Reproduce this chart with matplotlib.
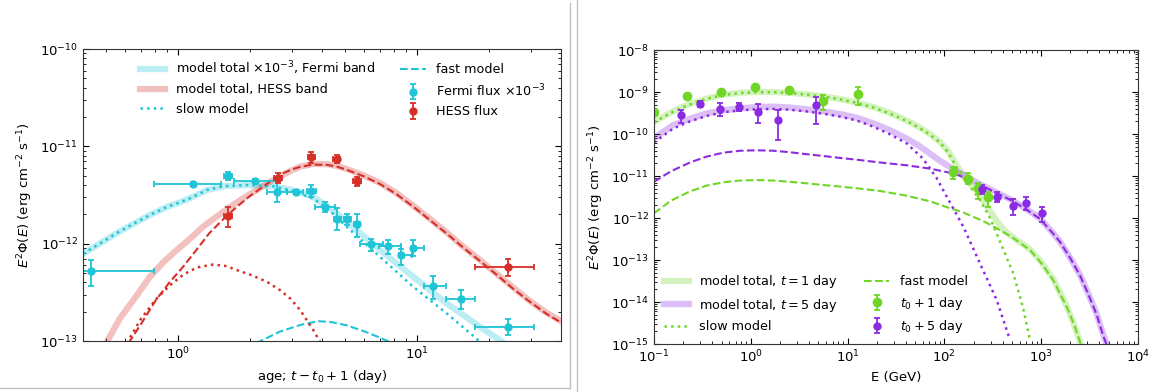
import matplotlib
matplotlib.use("Agg")
import matplotlib.pyplot as plt
from matplotlib.lines import Line2D
from matplotlib.container import ErrorbarContainer
from matplotlib.legend_handler import HandlerErrorbar

# ── left panel: light curves ─────────────────────────────────────
fermi_t    = [0.43, 1.15, 1.62, 2.10, 2.60, 3.10, 3.61, 4.12, 4.63, 5.10, 5.60,
              6.39, 7.58, 8.59, 9.62, 11.6, 15.3, 24.0]
fermi_tlo  = [0.20, 0.79, 1.56, 1.72, 2.36, 2.85, 3.45, 3.74, 4.48, 4.93, 5.42,
              5.74, 6.93, 8.40, 9.50, 10.7, 13.2, 17.4]
fermi_thi  = [0.79, 1.51, 1.68, 2.58, 2.85, 3.34, 3.78, 4.55, 4.78, 5.27, 5.78,
              7.21, 8.57, 9.50, 10.7, 13.2, 17.4, 30.7]
fermi_f    = [5.25e-13, 4.12e-12, 4.98e-12, 4.42e-12, 3.41e-12, 3.41e-12, 3.47e-12,
              2.39e-12, 1.81e-12, 1.81e-12, 1.58e-12, 9.9e-13, 9.4e-13, 7.73e-13,
              9.1e-13, 3.66e-13, 2.69e-13, 1.39e-13]
fermi_flo  = [3.71e-13, 3.92e-12, 4.50e-12, 4.20e-12, 2.69e-12, 3.25e-12, 3.00e-12,
              2.12e-12, 1.37e-12, 1.55e-12, 1.17e-12, 8.45e-13, 7.9e-13, 6.0e-13,
              7.4e-13, 2.72e-13, 2.12e-13, 1.16e-13]
fermi_fhi  = [6.87e-13, 4.33e-12, 5.47e-12, 4.65e-12, 4.50e-12, 3.60e-12, 4.03e-12,
              2.69e-12, 2.30e-12, 2.04e-12, 2.04e-12, 1.13e-12, 1.10e-12, 8.9e-13,
              1.09e-12, 4.6e-13, 3.32e-13, 1.70e-13]

hess_t     = [1.62, 2.62, 3.61, 4.60, 5.60, 24.0]
hess_tlo   = [1.56, 2.52, 3.48, 4.43, 5.40, 17.4]
hess_thi   = [1.68, 2.72, 3.74, 4.77, 5.80, 30.7]
hess_f     = [1.93e-12, 4.68e-12, 7.82e-12, 7.40e-12, 4.39e-12, 5.77e-13]
hess_flo   = [1.49e-12, 4.22e-12, 6.67e-12, 6.67e-12, 3.90e-12, 4.62e-13]
hess_fhi   = [2.39e-12, 5.26e-12, 8.80e-12, 8.13e-12, 4.86e-12, 7.03e-13]

fband_t    = [0.4, 0.47, 0.553, 0.65, 0.762, 0.898, 1.0, 1.12, 1.32, 1.55, 1.94,
              2.48, 3.0, 3.68, 4.6, 5.58, 7.0, 9.64, 13.3, 18.3, 22.2, 23.0]
fband_f    = [7.9e-13, 1.0e-12, 1.28e-12, 1.6e-12, 1.97e-12, 2.39e-12, 2.62e-12,
              2.92e-12, 3.56e-12, 3.9e-12, 4.0e-12, 3.9e-12, 3.56e-12, 3.03e-12,
              2.05e-12, 1.38e-12, 8.6e-13, 4.57e-13, 2.43e-13, 1.4e-13, 1.02e-13,
              9.5e-14]
fslow_t    = [0.4, 0.47, 0.553, 0.65, 0.762, 0.898, 1.0, 1.12, 1.32, 1.55, 1.94,
              2.48, 3.0, 3.68, 4.3, 5.07, 7.0, 9.64, 13.3, 17.7, 18.5]
fslow_f    = [7.9e-13, 1.0e-12, 1.28e-12, 1.6e-12, 1.97e-12, 2.39e-12, 2.62e-12,
              2.92e-12, 3.56e-12, 3.9e-12, 4.0e-12, 3.9e-12, 3.5e-12, 2.9e-12,
              2.2e-12, 1.49e-12, 7.3e-13, 3.6e-13, 1.92e-13, 1.06e-13, 9.5e-14]
ffast_t    = [2.12, 2.4, 2.67, 3.24, 3.86, 4.4, 5.07, 6.15, 7.0, 7.9]
ffast_f    = [9.5e-14, 1.1e-13, 1.25e-13, 1.46e-13, 1.6e-13, 1.56e-13, 1.45e-13,
              1.23e-13, 1.08e-13, 9.5e-14]

hband_t    = [0.5, 0.57, 0.65, 0.762, 0.87, 0.987, 1.12, 1.27, 1.45, 1.65, 1.88,
              2.13, 2.42, 2.74, 3.0, 3.25, 3.68, 4.2, 4.6, 5.07, 6.0, 7.0, 8.2,
              9.64, 11.3, 13.3, 15.6, 18.3, 21.5, 25.2, 29.5, 34.8, 40.0]
hband_f    = [9.5e-14, 1.7e-13, 2.63e-13, 4.57e-13, 6.5e-13, 8.6e-13, 1.12e-12,
              1.49e-12, 1.9e-12, 2.39e-12, 2.95e-12, 3.56e-12, 4.3e-12, 5.07e-12,
              5.7e-12, 6.2e-12, 6.6e-12, 6.55e-12, 6.3e-12, 5.85e-12, 5.0e-12,
              4.2e-12, 3.3e-12, 2.45e-12, 1.8e-12, 1.3e-12, 9.3e-13, 6.8e-13,
              4.9e-13, 3.55e-13, 2.6e-13, 1.95e-13, 1.6e-13]
hfast_t    = [0.62, 0.7, 0.807, 0.92, 1.05, 1.2, 1.35, 1.55, 1.76, 2.0, 2.27, 2.5,
              2.74, 3.0, 3.25, 3.68, 4.2, 4.6, 5.07, 6.0, 7.0, 8.2, 9.64, 11.3,
              13.3, 15.6, 18.3, 21.5, 25.2, 29.5, 34.8, 40.0]
hfast_f    = [9.5e-14, 1.5e-13, 2.63e-13, 4.0e-13, 5.8e-13, 8.8e-13, 1.28e-12,
              1.8e-12, 2.39e-12, 3.1e-12, 3.85e-12, 4.6e-12, 5.28e-12, 5.8e-12,
              6.17e-12, 6.5e-12, 6.45e-12, 6.2e-12, 5.75e-12, 4.9e-12, 4.1e-12,
              3.22e-12, 2.4e-12, 1.75e-12, 1.27e-12, 9.1e-13, 6.65e-13, 4.8e-13,
              3.45e-13, 2.55e-13, 1.9e-13, 1.55e-13]
hslow_t    = [0.61, 0.7, 0.81, 0.92, 1.05, 1.2, 1.40, 1.58, 1.76, 2.05, 2.35, 2.67,
              2.96, 3.24, 3.68, 3.95]
hslow_f    = [9.5e-14, 1.7e-13, 2.7e-13, 3.7e-13, 4.8e-13, 5.7e-13, 6.1e-13,
              5.9e-13, 5.36e-13, 4.7e-13, 4.06e-13, 3.33e-13, 2.7e-13, 2.08e-13,
              1.29e-13, 9.5e-14]

# ── right panel: spectra ─────────────────────────────────────────
d1_E   = [0.1, 0.218, 0.492, 1.10, 2.50, 5.61, 12.9, 124, 177, 224, 285]
d1_f   = [3.4e-10, 8.0e-10, 9.8e-10, 1.29e-9, 1.12e-9, 6.2e-10, 8.96e-10,
          1.22e-11, 8.5e-12, 5.1e-12, 3.1e-12]
d1_flo = [3.2e-10, 7.6e-10, 9.3e-10, 1.22e-9, 1.02e-9, 3.7e-10, 4.9e-10,
          8.3e-12, 6.5e-12, 2.78e-12, 1.86e-12]
d1_fhi = [3.6e-10, 8.4e-10, 1.03e-9, 1.36e-9, 1.22e-9, 8.5e-10, 1.34e-9,
          1.61e-11, 1.17e-11, 6.7e-12, 4.2e-12]

d5_E   = [0.19, 0.30, 0.48, 0.75, 1.19, 1.89, 4.7, 242, 352, 515, 690, 1012]
d5_f   = [2.83e-10, 5.2e-10, 3.87e-10, 4.5e-10, 3.4e-10, 2.16e-10, 4.9e-10,
          4.8e-12, 3.2e-12, 1.97e-12, 2.23e-12, 1.29e-12]
d5_flo = [1.8e-10, 4.4e-10, 2.7e-10, 3.5e-10, 1.8e-10, 7.3e-11, 1.73e-10,
          3.7e-12, 2.45e-12, 1.18e-12, 1.55e-12, 8.2e-13]
d5_fhi = [3.7e-10, 6.0e-10, 5.4e-10, 5.6e-10, 5.2e-10, 3.7e-10, 7.7e-10,
          6.1e-12, 4.2e-12, 2.78e-12, 3.1e-12, 1.86e-12]

band1_E = [0.1, 0.15, 0.22, 0.35, 0.52, 0.773, 1.15, 1.71, 2.5, 3.78, 5.6, 8.34,
           12.4, 18.4, 27, 40.7, 55, 71, 90, 110, 134, 165, 215, 265, 320, 380,
           440, 560, 766, 1000, 1334, 1833, 2200, 2600]
band1_f = [1.95e-10, 3.3e-10, 4.9e-10, 7.0e-10, 8.6e-10, 9.6e-10, 1.0e-9,
           1.0e-9, 9.6e-10, 8.8e-10, 7.9e-10, 6.8e-10, 5.6e-10, 4.4e-10,
           3.2e-10, 2.1e-10, 1.45e-10, 1.0e-10, 6.5e-11, 3.8e-11, 1.8e-11,
           8.5e-12, 4.4e-12, 2.2e-12, 1.1e-12, 6.5e-13, 4.5e-13, 3.0e-13,
           1.8e-13, 9.0e-14, 3.5e-14, 8.0e-15, 2.8e-15, 9e-16]
slow1_E = [0.1, 0.15, 0.22, 0.35, 0.52, 0.773, 1.15, 1.71, 2.5, 3.78, 5.6, 8.34,
           12.4, 18.4, 27, 40.7, 55, 71, 90, 110, 134, 165, 233, 290, 347, 430,
           515, 646, 766]
slow1_f = [1.9e-10, 3.2e-10, 4.8e-10, 6.9e-10, 8.5e-10, 9.5e-10, 9.9e-10,
           9.9e-10, 9.5e-10, 8.7e-10, 7.8e-10, 6.7e-10, 5.5e-10, 4.3e-10,
           3.1e-10, 2.05e-10, 1.4e-10, 9.7e-11, 6.3e-11, 3.6e-11, 1.6e-11,
           8.0e-12, 2.7e-12, 1.1e-12, 4.3e-13, 1.3e-13, 4.8e-14, 7.7e-15, 1.25e-15]
fast1_E = [0.1, 0.15, 0.235, 0.35, 0.52, 0.773, 1.15, 1.71, 2.5, 3.78, 5.6, 8.34,
           12.4, 21.6, 40.7, 71, 100, 157, 250, 347, 500, 766, 1000, 1334, 1833,
           2200, 2600]
fast1_f = [1.3e-12, 2.6e-12, 4.3e-12, 5.9e-12, 7.1e-12, 7.8e-12, 8.0e-12,
           7.8e-12, 7.3e-12, 6.7e-12, 6.1e-12, 5.6e-12, 5.1e-12, 4.4e-12,
           3.4e-12, 2.5e-12, 1.9e-12, 1.35e-12, 8.5e-13, 5.7e-13, 3.5e-13,
           1.73e-13, 8.5e-14, 3.3e-14, 7.7e-15, 2.8e-15, 9e-16]

band5_E = [0.1, 0.158, 0.235, 0.35, 0.52, 0.773, 1.15, 1.71, 2.5, 3.78, 5.6, 8.34,
           12.4, 18.4, 27, 40.7, 55, 71, 90, 124, 170, 233, 350, 515, 700, 973,
           1300, 1564, 2000, 2516, 3041, 3741, 4400, 4800]
band5_f = [7.9e-11, 1.64e-10, 2.3e-10, 3.1e-10, 3.7e-10, 4.08e-10, 4.4e-10,
           4.48e-10, 4.3e-10, 3.87e-10, 3.45e-10, 3.0e-10, 2.45e-10, 1.8e-10,
           1.25e-10, 7.8e-11, 5.2e-11, 3.4e-11, 2.3e-11, 1.45e-11, 9.5e-12,
           6.4e-12, 4.0e-12, 2.55e-12, 1.65e-12, 9.8e-13, 4.6e-13, 2.75e-13,
           1.12e-13, 4.4e-14, 1.65e-14, 5.2e-15, 1.6e-15, 9e-16]
slow5_E = [0.1, 0.158, 0.235, 0.35, 0.52, 0.773, 1.15, 1.71, 2.5, 3.78, 5.6, 8.34,
           12.4, 18.4, 27, 40.7, 60, 83, 106, 157, 233, 347, 476]
slow5_f = [6.3e-11, 1.35e-10, 2.0e-10, 2.7e-10, 3.3e-10, 3.65e-10, 3.9e-10,
           3.95e-10, 3.8e-10, 3.45e-10, 3.05e-10, 2.6e-10, 2.1e-10, 1.5e-10,
           1.0e-10, 6.0e-11, 2.6e-11, 9.0e-12, 3.2e-12, 6.2e-13, 8.3e-14,
           1.12e-14, 1.25e-15]
fast5_E = [0.1, 0.15, 0.235, 0.35, 0.52, 0.773, 1.15, 1.71, 2.5, 3.78, 5.6, 8.34,
           12.4, 21.6, 40.7, 71, 124, 170, 233, 350, 515, 700, 973, 1300, 1564,
           2000, 2516, 3041, 3741, 4400, 4800]
fast5_f = [7.3e-12, 1.3e-11, 2.1e-11, 2.9e-11, 3.6e-11, 4.0e-11, 4.1e-11,
           4.0e-11, 3.7e-11, 3.3e-11, 3.0e-11, 2.7e-11, 2.45e-11, 2.1e-11,
           1.8e-11, 1.5e-11, 1.15e-11, 8.8e-12, 6.2e-12, 3.9e-12, 2.5e-12,
           1.6e-12, 9.5e-13, 4.5e-13, 2.7e-13, 1.1e-13, 4.3e-14, 1.6e-14,
           5.0e-15, 1.5e-15, 9e-16]

CYAN   = "#1fc4d6"
RED    = "#d62f28"
GREEN  = "#6fd626"
PURPLE = "#8a2be2"

plt.rcParams.update({
    "font.size": 9.5,
    "xtick.direction": "in", "ytick.direction": "in",
    "xtick.top": True, "ytick.right": True,
    "xtick.major.size": 4, "ytick.major.size": 4,
    "xtick.minor.size": 2, "ytick.minor.size": 2,
    "axes.edgecolor": "#333333",
    "legend.fontsize": 9.2,
})


def errs(v, lo, hi):
    return [[a - b for a, b in zip(v, lo)], [c - a for a, c in zip(v, hi)]]


eb_kw = dict(fmt="o", ms=5, capsize=2.5, elinewidth=1.3, capthick=1.3)
# legend shows only the vertical error bar
hmap = {ErrorbarContainer: HandlerErrorbar(xerr_size=0, yerr_size=0.6)}

fig = plt.figure(figsize=(11.53, 3.92), dpi=100)
ax1 = fig.add_axes([0.0720, 0.1301, 0.4146, 0.7449])
ax2 = fig.add_axes([0.5672, 0.1224, 0.4198, 0.7500])

# ── left panel ──
b1, = ax1.plot(fband_t, fband_f, color=CYAN, lw=4.5, alpha=0.3,
               label=r"model total $\times 10^{-3}$, Fermi band")
b2, = ax1.plot(hband_t, hband_f, color=RED, lw=4.5, alpha=0.3,
               label="model total, HESS band")
s1, = ax1.plot(fslow_t, fslow_f, color=CYAN, lw=1.8, ls=":", label="slow model")
f1, = ax1.plot(ffast_t, ffast_f, color=CYAN, lw=1.5, ls="--", label="fast model")
ax1.plot(hslow_t, hslow_f, color=RED, lw=1.8, ls=":")
ax1.plot(hfast_t, hfast_f, color=RED, lw=1.5, ls="--")
e1 = ax1.errorbar(fermi_t, fermi_f, xerr=errs(fermi_t, fermi_tlo, fermi_thi),
                  yerr=errs(fermi_f, fermi_flo, fermi_fhi), color=CYAN,
                  label=r"Fermi flux $\times 10^{-3}$", **eb_kw)
e2 = ax1.errorbar(hess_t, hess_f, xerr=errs(hess_t, hess_tlo, hess_thi),
                  yerr=errs(hess_f, hess_flo, hess_fhi), color=RED,
                  label="HESS flux", **eb_kw)
ax1.set_xscale("log")
ax1.set_yscale("log")
ax1.set_xlim(0.4, 40)
ax1.set_ylim(1e-13, 1e-10)
ax1.set_xlabel(r"age; $t - t_0 + 1$ (day)")
ax1.set_ylabel(r"$E^2\Phi(E)$ (erg cm$^{-2}$ s$^{-1}$)")
ax1.legend(handles=[b1, b2, s1, f1, e1, e2], ncol=2, frameon=False,
           loc="upper left", bbox_to_anchor=(0.119, 0.965), borderpad=0,
           borderaxespad=0, columnspacing=2.0, handler_map=hmap)

# ── right panel ──
g1, = ax2.plot(band1_E, band1_f, color=GREEN, lw=4.5, alpha=0.3,
               label=r"model total, $t = 1$ day")
p1, = ax2.plot(band5_E, band5_f, color=PURPLE, lw=4.5, alpha=0.3,
               label=r"model total, $t = 5$ day")
gs, = ax2.plot(slow1_E, slow1_f, color=GREEN, lw=1.8, ls=":", label="slow model")
gf, = ax2.plot(fast1_E, fast1_f, color=GREEN, lw=1.5, ls="--", label="fast model")
ax2.plot(slow5_E, slow5_f, color=PURPLE, lw=1.8, ls=":")
ax2.plot(fast5_E, fast5_f, color=PURPLE, lw=1.5, ls="--")
eg = ax2.errorbar(d1_E, d1_f, yerr=errs(d1_f, d1_flo, d1_fhi), color=GREEN,
                  label=r"$t_0 + 1$ day", **{**eb_kw, "ms": 6})
ep = ax2.errorbar(d5_E, d5_f, yerr=errs(d5_f, d5_flo, d5_fhi), color=PURPLE,
                  label=r"$t_0 + 5$ day", **eb_kw)
ax2.set_xscale("log")
ax2.set_yscale("log")
ax2.set_xlim(1e-1, 1e4)
ax2.set_ylim(1e-15, 1e-8)
ax2.set_xlabel("E (GeV)")
ax2.set_ylabel(r"$E^2\Phi(E)$ (erg cm$^{-2}$ s$^{-1}$)")
ax2.legend(handles=[g1, p1, gs, gf, eg, ep], ncol=2, frameon=False,
           loc="lower left", bbox_to_anchor=(0.02, 0.03), borderpad=0,
           borderaxespad=0, columnspacing=2.0, handler_map=hmap)

# panel separators
grey = "#c0c0c0"
fig.add_artist(Line2D([569.5 / 1153, 569.5 / 1153], [1 - 388 / 392, 1 - 3 / 392],
                      color=grey, lw=1, transform=fig.transFigure))
fig.add_artist(Line2D([0, 569.5 / 1153], [1 - 388 / 392, 1 - 388 / 392],
                      color=grey, lw=1, transform=fig.transFigure))
fig.add_artist(Line2D([576.5 / 1153, 576.5 / 1153], [0, 1],
                      color=grey, lw=1, transform=fig.transFigure))

fig.savefig("out.png", dpi=100)
